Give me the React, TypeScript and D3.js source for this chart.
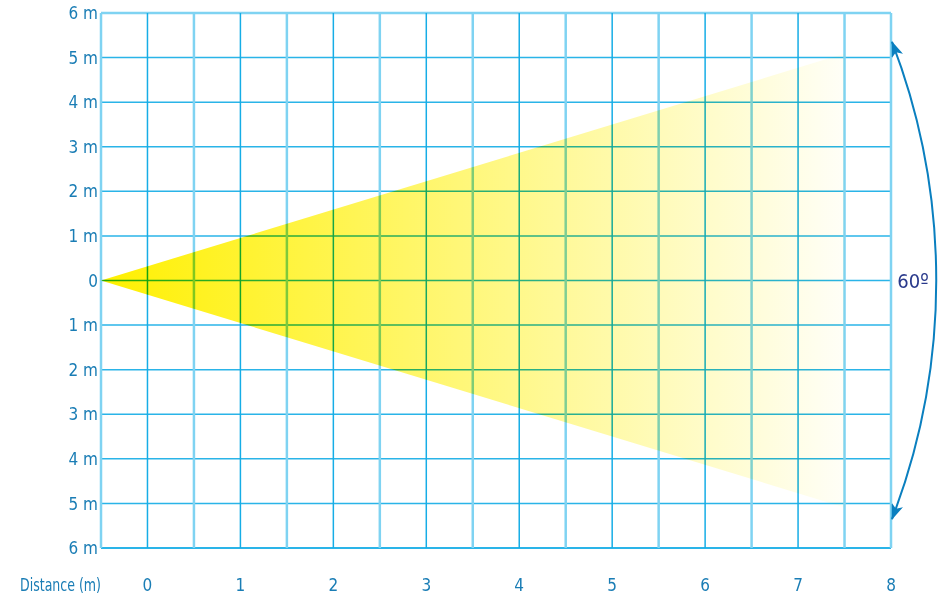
import React from "react";
import * as d3 from "d3";

const W = 946;
const H = 596;

const xTicks = [0, 1, 2, 3, 4, 5, 6, 7, 8];
const xHalfLines = [-0.5, 0.5, 1.5, 2.5, 3.5, 4.5, 5.5, 6.5, 7.5];
const yTicks = [6, 5, 4, 3, 2, 1, 0, -1, -2, -3, -4, -5, -6];
const yTickLabels = ["6 m", "5 m", "4 m", "3 m", "2 m", "1 m", "0", "1 m", "2 m", "3 m", "4 m", "5 m", "6 m"];
const xAxisTitle = "Distance (m)";
const angleLabel = "60º";

// cone: apex and far end (data units, metres)
const coneApex: [number, number] = [-0.5, 0];
const coneEndX = 7.5;
const coneHalfWidthAtEnd = 5.09;

const FONT = "'Liberation Sans Narrow', 'DejaVu Sans Condensed', 'Roboto', sans-serif";

export default function App() {
  const x = d3.scaleLinear().domain([-0.5, 8]).range([101, 891]);
  const y = d3.scaleLinear().domain([-6, 6]).range([548, 13]);

  const conePts: [number, number][] = [
    coneApex,
    [coneEndX, coneHalfWidthAtEnd],
    [coneEndX, -coneHalfWidthAtEnd],
  ];
  const conePath = d3.line<[number, number]>()
    .x((d) => x(d[0]))
    .y((d) => y(d[1]))(conePts) + "Z";

  const arcTopY = y(5.35);
  const arcBotY = y(-5.35);
  const arcX = x(8) + 1;
  const R = 665;

  return (
    <svg width={W} height={H} style={{ position: "absolute", left: 0, top: 0, display: "block" }}>
      <defs>
        <linearGradient id="coneGrad" gradientUnits="userSpaceOnUse" x1={x(coneApex[0])} y1={0} x2={x(coneEndX)} y2={0}>
          <stop offset="0" stopColor="#fff000" stopOpacity={1} />
          <stop offset="1" stopColor="#fff000" stopOpacity={0.03} />
        </linearGradient>
        <marker id="arrow" viewBox="0 0 16 12" refX="15" refY="6" markerWidth="16" markerHeight="12"
          markerUnits="userSpaceOnUse" orient="auto-start-reverse">
          <path d="M0,0 L16,6 L0,12 L4,6 Z" fill="#0a7fbf" />
        </marker>
      </defs>
      <rect x={0} y={0} width={W} height={H} fill="#ffffff" />
      <path d={conePath} fill="url(#coneGrad)" />
      <g style={{ mixBlendMode: "multiply" }}>
        {yTicks.map((t) => (
          <line key={"h" + t} x1={x(-0.5)} x2={x(8)} y1={y(t)} y2={y(t)}
            stroke={t === 6 ? "#7fd3f2" : "#2ab4e8"} strokeWidth={t === 6 ? 2.5 : t === -6 ? 2 : 1.5} />
        ))}
        {xHalfLines.map((t) => (
          <line key={"vh" + t} x1={x(t)} x2={x(t)} y1={y(6)} y2={y(-6)}
            stroke="#7fd3f2" strokeWidth={2.5} />
        ))}
        {xTicks.map((t) => (
          <line key={"v" + t} x1={x(t)} x2={x(t)} y1={y(6)} y2={y(-6)}
            stroke={t === 8 ? "#7fd3f2" : "#16ade6"} strokeWidth={t === 8 ? 2.5 : 1.5} />
        ))}
      </g>
      {yTicks.map((t, i) => (
        <text key={"yl" + t} x={x(-0.5) - 3} y={y(t)} dy="0.36em" textAnchor="end"
          fontFamily={FONT} fontSize={17} fill="#1a7db5">{yTickLabels[i]}</text>
      ))}
      {xTicks.map((t) => (
        <text key={"xl" + t} x={x(t)} y={585} dy="0.36em" textAnchor="middle"
          fontFamily={FONT} fontSize={17} fill="#1a7db5">{t}</text>
      ))}
      <text x={x(-0.5)} y={585} dy="0.36em" textAnchor="end" textLength={81} lengthAdjust="spacingAndGlyphs"
        fontFamily={FONT} fontSize={18} fill="#1a7db5">{xAxisTitle}</text>
      <path d={`M${arcX},${arcTopY} A${R},${R} 0 0 1 ${arcX},${arcBotY}`}
        fill="none" stroke="#0a7fbf" strokeWidth={2}
        markerStart="url(#arrow)" markerEnd="url(#arrow)" />
      <text x={913} y={y(0)} dy="0.36em" textAnchor="middle"
        fontFamily={FONT} fontSize={20} fill="#2a3a8c">{angleLabel}</text>
    </svg>
  );
}
